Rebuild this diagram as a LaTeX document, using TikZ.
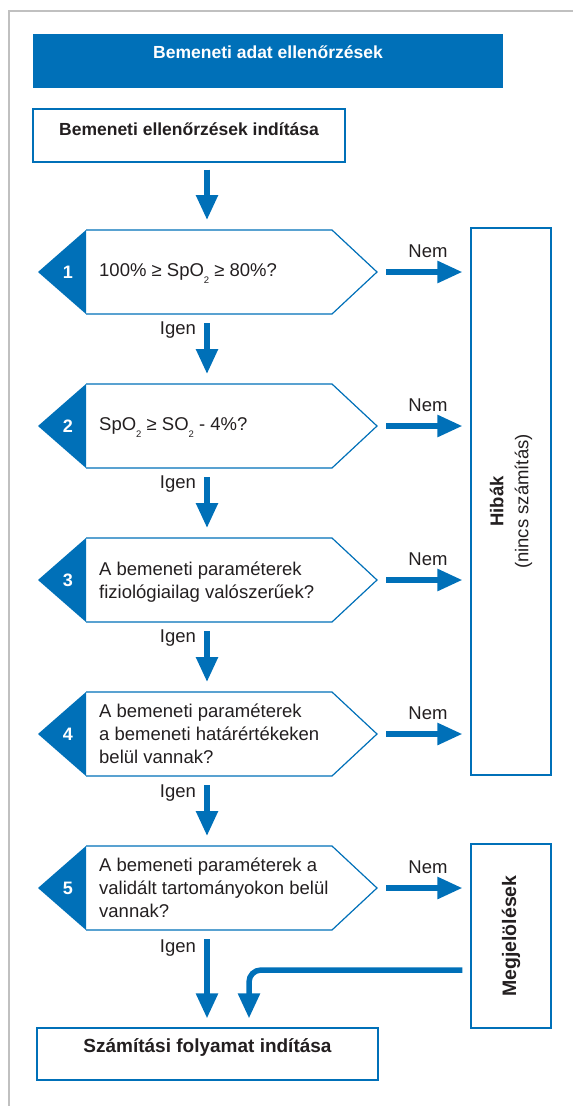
\documentclass[tikz,border=0pt]{standalone}
\usepackage{fontspec}
\setmainfont{Liberation Sans}
\usetikzlibrary{arrows.meta,calc}
\definecolor{rblue}{RGB}{0,112,184}
\definecolor{framegray}{RGB}{192,192,192}
\definecolor{ink}{RGB}{35,31,32}

% lowered subscript two, kept out of the line height
\newcommand\subtwo{\raisebox{-6.5pt}[0pt][0pt]{\fontsize{9.5}{9.5}\selectfont 2}}
% a line whose descenders should not push the text block upwards
\newcommand\nodepth[1]{\raisebox{0pt}[\height][0pt]{#1}}

% one check: blue number wedge, outlined arrow body, question text
\newcommand\chk[4]{%
  \fill[rblue] (38,#2) -- (86,#2-42) -- (86,#2+42) -- cycle;
  \draw[rblue, line width=1.2pt, line join=miter]
    (86,#2-42) -- (332,#2-42) -- (377,#2) -- (332,#2+42) -- (86,#2+42);
  \node[numtxt] (#1n) at (68,#2) {#3};
  \node[qtxt] (#1) at (99,#2) {#4};
  \coordinate (#1e) at (377,#2);
  \coordinate (#1top) at (207,#2-42);
  \coordinate (#1bot) at (207,#2+42);
}

\begin{document}
\begin{tikzpicture}[x=1pt,y=-1pt,
  flow/.style={draw=rblue, line width=5.5pt, -{Triangle[length=25pt,width=21pt]}},
  boxed/.style={draw=rblue, line width=1.2pt, fill=white, inner sep=0pt, text=ink},
  numtxt/.style={text=white, font=\fontsize{18}{18}\selectfont\bfseries, inner sep=0pt},
  qtxt/.style={anchor=west, align=left, inner sep=0pt, text=ink,
    font=\fontsize{18.5}{23}\selectfont},
  lbl/.style={text=ink, inner sep=0pt, font=\fontsize{18.5}{23}\selectfont},
  heading/.style={font=\fontsize{17.5}{20}\selectfont\bfseries}
]
\useasboundingbox (0,0) rectangle (573,1106);

% page frame
\draw[framegray, line width=1.5pt] (9,1106) -- (9,11) -- (573,11);

% title bar
\node[fill=rblue, text=white, heading, inner sep=0pt,
      minimum width=470pt, text height=24pt, text depth=30pt] (title) at (268,61)
  {Bemeneti adat ellenőrzések};

% start and end boxes
\node[boxed, heading, minimum width=312pt, text height=26pt, text depth=27pt]
  (start) at (189,135.5) {Bemeneti ellenőrzések indítása};
\node[boxed, font=\fontsize{19}{22}\selectfont\bfseries, minimum width=341pt,
      text height=24pt, text depth=28pt]
  (endbox) at (207.5,1054) {Számítási folyamat indítása};

% result boxes on the right
\node[boxed, rotate=90, align=center, minimum width=547pt, minimum height=80pt,
      font=\fontsize{18.5}{25}\selectfont]
  (hib) at (511,501.5) {\textbf{Hibák}\\(nincs számítás)};
\node[boxed, rotate=90, minimum width=184pt, minimum height=80pt,
      font=\fontsize{19.5}{25}\selectfont\bfseries]
  (megj) at (511,936) {Megjelölések};

% the five checks
\chk{q1}{272}{1}{100\% ≥ SpO\subtwo{} ≥ 80\%?}
\chk{q2}{426}{2}{SpO\subtwo{} ≥ SO\subtwo{} - 4\%?}
\chk{q3}{580}{3}{A bemeneti paraméterek\\\nodepth{fiziológiailag valószerűek?}}
\chk{q4}{734}{4}{A bemeneti paraméterek\\a bemeneti határértékeken\\belül vannak?}
\chk{q5}{888}{5}{A bemeneti paraméterek a\\validált tartományokon belül\\vannak?}

% main flow downwards
\draw[flow] ([yshift=-7pt]start.south -| q1top) -- ([yshift=10pt]q1top);
\draw[flow] ([yshift=-9pt]q1bot) -- ([yshift=10pt]q2top);
\draw[flow] ([yshift=-9pt]q2bot) -- ([yshift=10pt]q3top);
\draw[flow] ([yshift=-9pt]q3bot) -- ([yshift=10pt]q4top);
\draw[flow] ([yshift=-9pt]q4bot) -- ([yshift=10pt]q5top);
\draw[flow] ([yshift=-9pt]q5bot) -- ([yshift=9pt]endbox.north -| q5bot);

% "no" branches
\draw[flow] ([xshift=9pt]q1e) -- ([xshift=-8pt]hib.north |- q1e);
\draw[flow] ([xshift=9pt]q2e) -- ([xshift=-8pt]hib.north |- q2e);
\draw[flow] ([xshift=9pt]q3e) -- ([xshift=-8pt]hib.north |- q3e);
\draw[flow] ([xshift=9pt]q4e) -- ([xshift=-8pt]hib.north |- q4e);
\draw[flow] ([xshift=9pt]q5e) -- ([xshift=-8pt]megj.north |- q5e);

% flagged results still go on to the calculation
\draw[flow, rounded corners=12pt]
  ([xshift=-8pt]megj.north |- 0,970) -- (249,970) -- ([yshift=9pt]endbox.north -| 249,0);

% branch labels
\node[lbl] (y1) at (178,330) {Igen};
\node[lbl] (y2) at (178,484) {Igen};
\node[lbl] (y3) at (178,638) {Igen};
\node[lbl] (y4) at (178,793) {Igen};
\node[lbl] (y5) at (178,948) {Igen};
\node[lbl] (n1) at (428,251) {Nem};
\node[lbl] (n2) at (428,405) {Nem};
\node[lbl] (n3) at (428,559) {Nem};
\node[lbl] (n4) at (428,713) {Nem};
\node[lbl] (n5) at (428,867) {Nem};
\end{tikzpicture}
\end{document}
